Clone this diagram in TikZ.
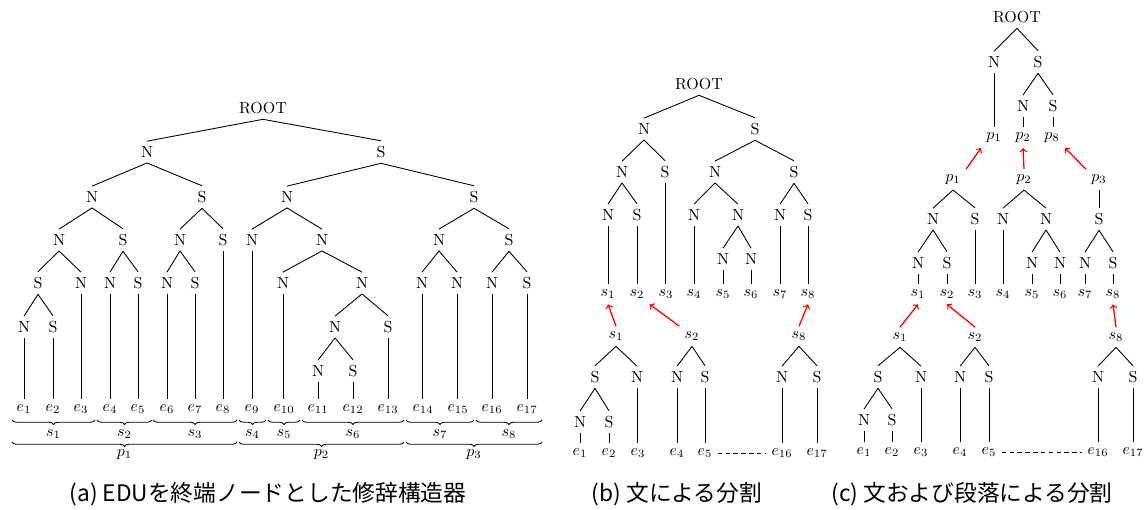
\documentclass[tikz,border=0pt]{standalone}
\usepackage{fontspec}
\newfontfamily\jpfont{Noto Sans CJK JP}
\usetikzlibrary{decorations.pathreplacing}
\newcommand{\myd}[2]{\draw[edge] (#1.south) -- (#2.north);}
\newcommand{\myv}[2]{\draw[edge] (#1.south) -- (#1.south |- #2.north);}
\begin{document}
\begin{tikzpicture}[x=0.625pt,y=-0.625pt,
  lbl/.style={anchor=base,inner sep=3.2pt},
  edge/.style={line width=0.55pt},
  redarr/.style={red,line width=0.8pt,->},
  br/.style={decorate,decoration={brace,mirror,amplitude=2.8pt},line width=0.55pt},
  captext/.style={font=\jpfont\fontsize{14.2pt}{17pt}\selectfont}]
\useasboundingbox (0,0) rectangle (1146,509);
% ---------------- panel (a)
\node[lbl] (aR) at (263,113.5) {ROOT};
\node[lbl] (aN) at (147,157.5) {N};
\node[lbl] (aS) at (381,157.5) {S};
\node[lbl] (aNN) at (92,202.5) {N};
\node[lbl] (aNS) at (202,202.5) {S};
\node[lbl] (aSN) at (287,202.5) {N};
\node[lbl] (aSS) at (474,202.5) {S};
\node[lbl] (aNNN) at (59,245.5) {N};
\node[lbl] (aNNS) at (123,245.5) {S};
\node[lbl] (aNSN) at (180,245.5) {N};
\node[lbl] (aNSS) at (223,245.5) {S};
\node[lbl] (aSNN) at (252,245.5) {N};
\node[lbl] (aSNS) at (322,245.5) {N};
\node[lbl] (aSSN) at (439,245.5) {N};
\node[lbl] (aSSS) at (509,245.5) {S};
\node[lbl] (a4a) at (38,288.5) {S};
\node[lbl] (a4b) at (81,288.5) {N};
\node[lbl] (a4c) at (110,288.5) {N};
\node[lbl] (a4d) at (138,288.5) {S};
\node[lbl] (a4e) at (167,288.5) {N};
\node[lbl] (a4f) at (195,288.5) {S};
\node[lbl] (a4g) at (283,288.5) {N};
\node[lbl] (a4h) at (362,288.5) {N};
\node[lbl] (a4i) at (422,288.5) {N};
\node[lbl] (a4j) at (457,288.5) {N};
\node[lbl] (a4k) at (492,288.5) {N};
\node[lbl] (a4l) at (527,288.5) {S};
\node[lbl] (a5a) at (24,332.5) {N};
\node[lbl] (a5b) at (53,332.5) {S};
\node[lbl] (a5c) at (335,332.5) {N};
\node[lbl] (a5d) at (388,332.5) {S};
\node[lbl] (a6a) at (318,376.5) {N};
\node[lbl] (a6b) at (353,376.5) {S};
\foreach \i/\x in {1/24,2/53,3/81,4/110,5/138,6/167,7/195,8/223,9/252,10/284,11/318,12/353,13/388,14/423,15/458,16/492,17/527}
  \node[lbl] (ae\i) at (\x,411.5) {$e_{\i}$};
\myd{aR}{aN} \myd{aR}{aS}
\myd{aN}{aNN} \myd{aN}{aNS} \myd{aS}{aSN} \myd{aS}{aSS}
\myd{aNN}{aNNN} \myd{aNN}{aNNS} \myd{aNS}{aNSN} \myd{aNS}{aNSS}
\myd{aSN}{aSNN} \myd{aSN}{aSNS} \myd{aSS}{aSSN} \myd{aSS}{aSSS}
\myd{aNNN}{a4a} \myd{aNNN}{a4b} \myd{aNNS}{a4c} \myd{aNNS}{a4d}
\myd{aNSN}{a4e} \myd{aNSN}{a4f} \myv{aNSS}{ae8} \myv{aSNN}{ae9}
\myd{aSNS}{a4g} \myd{aSNS}{a4h} \myd{aSSN}{a4i} \myd{aSSN}{a4j}
\myd{aSSS}{a4k} \myd{aSSS}{a4l}
\myd{a4a}{a5a} \myd{a4a}{a5b}
\myv{a4b}{ae3} \myv{a4c}{ae4} \myv{a4d}{ae5} \myv{a4e}{ae6} \myv{a4f}{ae7}
\myv{a4g}{ae10} \myd{a4h}{a5c} \myd{a4h}{a5d}
\myv{a4i}{ae14} \myv{a4j}{ae15} \myv{a4k}{ae16} \myv{a4l}{ae17}
\myv{a5a}{ae1} \myv{a5b}{ae2}
\myd{a5c}{a6a} \myd{a5c}{a6b} \myv{a5d}{ae13}
\myv{a6a}{ae11} \myv{a6b}{ae12}
% braces
\foreach \i/\l/\r in {1/12/95,2/97/152,3/153/237,4/239/266,5/268/300,6/302/404,7/406/474,8/476/542}{
  \draw[br] (\l,420) -- (\r,420);
  \node[lbl] (as\i) at ({(\l+\r)/2},436.5) {$s_{\i}$};
}
\foreach \i/\l/\r in {1/12/237,2/239/404,3/406/542}{
  \draw[br] (\l,442) -- (\r,442);
  \node[lbl] (ap\i) at ({(\l+\r)/2},456.5) {$p_{\i}$};
}
% ---------------- panel (b)
\node[lbl] (bR) at (699,89.5) {ROOT};
\node[lbl] (bN) at (644,134.5) {N};
\node[lbl] (bS) at (755,134.5) {S};
\node[lbl] (bNN) at (622,177.5) {N};
\node[lbl] (bNS) at (665,177.5) {S};
\node[lbl] (bSN) at (715,177.5) {N};
\node[lbl] (bSS) at (794,177.5) {S};
\node[lbl] (bNNN) at (608,220.5) {N};
\node[lbl] (bNNS) at (637,220.5) {S};
\node[lbl] (bSNN) at (694,220.5) {N};
\node[lbl] (bSNS) at (738,220.5) {N};
\node[lbl] (bSSN) at (780,220.5) {N};
\node[lbl] (bSSS) at (808,220.5) {S};
\node[lbl] (b4a) at (723,264.5) {N};
\node[lbl] (b4b) at (751,264.5) {N};
\foreach \i/\x in {1/608,2/637,3/666,4/694,5/723,6/751,7/780,8/808}
  \node[lbl] (bs\i) at (\x,296.5) {$s_{\i}$};
\node[lbl] (bt1) at (616,338.5) {$s_{1}$};
\node[lbl] (bt2) at (692,338.5) {$s_{2}$};
\node[lbl] (bt8) at (799,338.5) {$s_{8}$};
\node[lbl] (bu1) at (595,382.5) {S};
\node[lbl] (bu2) at (637,382.5) {N};
\node[lbl] (bu3) at (677,382.5) {N};
\node[lbl] (bu4) at (705,382.5) {S};
\node[lbl] (bu5) at (782,382.5) {N};
\node[lbl] (bu6) at (817,382.5) {S};
\node[lbl] (bv1) at (580,427.5) {N};
\node[lbl] (bv2) at (609,427.5) {S};
\foreach \i/\x in {1/580,2/609,3/638,4/677,5/705,16/782,17/817}
  \node[lbl] (be\i) at (\x,455.5) {$e_{\i}$};
\myd{bR}{bN} \myd{bR}{bS}
\myd{bN}{bNN} \myd{bN}{bNS} \myd{bS}{bSN} \myd{bS}{bSS}
\myd{bNN}{bNNN} \myd{bNN}{bNNS} \myv{bNS}{bs3}
\myd{bSN}{bSNN} \myd{bSN}{bSNS} \myd{bSS}{bSSN} \myd{bSS}{bSSS}
\myv{bNNN}{bs1} \myv{bNNS}{bs2} \myv{bSNN}{bs4}
\myd{bSNS}{b4a} \myd{bSNS}{b4b} \myv{b4a}{bs5} \myv{b4b}{bs6}
\myv{bSSN}{bs7} \myv{bSSS}{bs8}
\myd{bt1}{bu1} \myd{bt1}{bu2} \myd{bu1}{bv1} \myd{bu1}{bv2}
\myv{bv1}{be1} \myv{bv2}{be2} \myv{bu2}{be3}
\myd{bt2}{bu3} \myd{bt2}{bu4} \myv{bu3}{be4} \myv{bu4}{be5}
\myd{bt8}{bu5} \myd{bt8}{bu6} \myv{bu5}{be16} \myv{bu6}{be17}
\draw[redarr] (bt1.north) -- (bs1.south);
\draw[redarr] (bt2.north west) -- (bs2.south east);
\draw[redarr] (bt8.north) -- (bs8.south);
\draw[edge,dash pattern=on 2.8pt off 2.1pt] (be5.east) -- (be16.west);
% ---------------- panel (c)
\node[lbl] (cR) at (1017,22.5) {ROOT};
\node[lbl] (cN) at (994,67.5) {N};
\node[lbl] (cS) at (1038,67.5) {S};
\node[lbl] (cSN) at (1023,111.5) {N};
\node[lbl] (cSS) at (1053,111.5) {S};
\node[lbl] (cp1) at (994,139.5) {$p_{1}$};
\node[lbl] (cp2) at (1023,139.5) {$p_{2}$};
\node[lbl] (cp8) at (1052,139.5) {$p_{8}$};
\node[lbl] (cq1) at (953,181.5) {$p_{1}$};
\node[lbl] (cq2) at (1024,181.5) {$p_{2}$};
\node[lbl] (cq3) at (1099,181.5) {$p_{3}$};
\node[lbl] (cL1) at (933,224.5) {N};
\node[lbl] (cL2) at (975,224.5) {S};
\node[lbl] (cL3) at (1003,224.5) {N};
\node[lbl] (cL4) at (1046,224.5) {N};
\node[lbl] (cL5) at (1099,224.5) {S};
\node[lbl] (cM1) at (918,268.5) {N};
\node[lbl] (cM2) at (947,268.5) {S};
\node[lbl] (cM3) at (1032,268.5) {N};
\node[lbl] (cM4) at (1060,268.5) {N};
\node[lbl] (cM5) at (1085,268.5) {N};
\node[lbl] (cM6) at (1113,268.5) {S};
\foreach \i/\x in {1/918,2/947,3/975,4/1003,5/1032,6/1060,7/1085,8/1113}
  \node[lbl] (cs\i) at (\x,296.5) {$s_{\i}$};
\node[lbl] (ct1) at (900,339.5) {$s_{1}$};
\node[lbl] (ct2) at (975,339.5) {$s_{2}$};
\node[lbl] (ct8) at (1116,339.5) {$s_{8}$};
\node[lbl] (cu1) at (878,382.5) {S};
\node[lbl] (cu2) at (921,382.5) {N};
\node[lbl] (cu3) at (960,382.5) {N};
\node[lbl] (cu4) at (989,382.5) {S};
\node[lbl] (cu5) at (1098,382.5) {N};
\node[lbl] (cu6) at (1133,382.5) {S};
\node[lbl] (cv1) at (864,425.5) {N};
\node[lbl] (cv2) at (892,425.5) {S};
\foreach \i/\x in {1/864,2/892,3/921,4/960,5/989,16/1098,17/1133}
  \node[lbl] (ce\i) at (\x,454.5) {$e_{\i}$};
\myd{cR}{cN} \myd{cR}{cS} \myv{cN}{cp1}
\myd{cS}{cSN} \myd{cS}{cSS} \myv{cSN}{cp2} \myv{cSS}{cp8}
\myd{cq1}{cL1} \myd{cq1}{cL2} \myd{cq2}{cL3} \myd{cq2}{cL4} \myv{cq3}{cL5}
\myd{cL1}{cM1} \myd{cL1}{cM2} \myv{cL2}{cs3} \myv{cL3}{cs4}
\myd{cL4}{cM3} \myd{cL4}{cM4} \myd{cL5}{cM5} \myd{cL5}{cM6}
\myv{cM1}{cs1} \myv{cM2}{cs2} \myv{cM3}{cs5} \myv{cM4}{cs6} \myv{cM5}{cs7} \myv{cM6}{cs8}
\myd{ct1}{cu1} \myd{ct1}{cu2} \myd{cu1}{cv1} \myd{cu1}{cv2}
\myv{cv1}{ce1} \myv{cv2}{ce2} \myv{cu2}{ce3}
\myd{ct2}{cu3} \myd{ct2}{cu4} \myv{cu3}{ce4} \myv{cu4}{ce5}
\myd{ct8}{cu5} \myd{ct8}{cu6} \myv{cu5}{ce16} \myv{cu6}{ce17}
\draw[redarr] (cq1.north east) -- (cp1.south west);
\draw[redarr] (cq2.north) -- (cp2.south);
\draw[redarr] (cq3.north west) -- (cp8.south east);
\draw[redarr] (ct1.north) -- (cs1.south);
\draw[redarr] (ct2.north) -- (cs2.south);
\draw[redarr] (ct8.north) -- (cs8.south);
\draw[edge,dash pattern=on 2.8pt off 2.1pt] (ce5.east) -- (ce16.west);
% ---------------- captions
\node[captext] (capa) at (268,494) {(a) EDUを終端ノードとした修辞構造器};
\node[captext] (capb) at (677,494) {(b) 文による分割};
\node[captext] (capc) at (972,494) {(c) 文および段落による分割};
\end{tikzpicture}
\end{document}
